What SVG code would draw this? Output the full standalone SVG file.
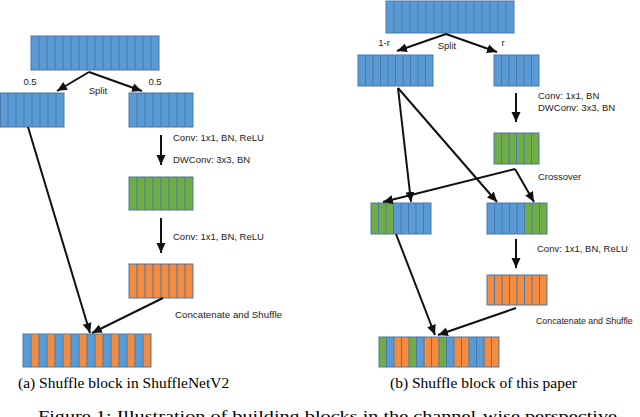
<svg xmlns="http://www.w3.org/2000/svg" width="640" height="417" viewBox="0 0 640 417">
<style>
.b{fill:#5B9BD5}
.g{fill:#70AD47}
.o{fill:#F58B3E}
.frame{fill:none;stroke:#4A78A8;stroke-width:1}
.div{fill:none;stroke:#4A78A8;stroke-width:1}
.lbl{font-family:"Liberation Sans","DejaVu Sans",sans-serif;font-size:9.5px;fill:#222}
.cap{font-family:"Liberation Serif","Times New Roman",serif;font-size:15.5px;fill:#000}
.arr{fill:none;stroke:#111;stroke-width:2;marker-end:url(#ah)}
</style>
<defs>
<marker id="ah" markerUnits="userSpaceOnUse" markerWidth="12" markerHeight="12" viewBox="0 0 12 12" refX="10" refY="6" orient="auto">
<path d="M0,1.5 L10,6 L0,10.5 Z" fill="#111"/>
</marker>
</defs>
<rect width="640" height="417" fill="#fff"/>

<!-- LEFT (a) -->
<g id="a-input">
<rect class="b" x="31" y="36" width="128" height="34"/>
<path class="div" d="M39,36v34M47,36v34M55,36v34M63,36v34M71,36v34M79,36v34M87,36v34M95,36v34M103,36v34M111,36v34M119,36v34M127,36v34M135,36v34M143,36v34M151,36v34"/>
<rect class="frame" x="31" y="36" width="128" height="34"/>
</g>
<g id="a-left">
<rect class="b" x="0.5" y="93" width="63.5" height="34"/>
<path class="div" d="M8,93v34M16,93v34M24,93v34M32,93v34M40,93v34M48,93v34M56,93v34"/>
<rect class="frame" x="0.5" y="93" width="63.5" height="34"/>
</g>
<g id="a-right">
<rect class="b" x="129" y="93" width="64" height="34"/>
<path class="div" d="M137,93v34M145,93v34M153,93v34M161,93v34M169,93v34M177,93v34M185,93v34"/>
<rect class="frame" x="129" y="93" width="64" height="34"/>
</g>
<g id="a-green">
<rect class="g" x="129" y="177" width="64" height="33"/>
<path class="div" d="M137,177v33M145,177v33M153,177v33M161,177v33M169,177v33M177,177v33M185,177v33"/>
<rect class="frame" x="129" y="177" width="64" height="33"/>
</g>
<g id="a-orange">
<rect class="o" x="129" y="264" width="64" height="34"/>
<path class="div" d="M137,264v34M145,264v34M153,264v34M161,264v34M169,264v34M177,264v34M185,264v34"/>
<rect class="frame" x="129" y="264" width="64" height="34"/>
</g>
<g id="a-output">
<rect class="b" x="23" y="334" width="128" height="33"/>
<rect class="o" x="31" y="334" width="8" height="33"/>
<rect class="o" x="47" y="334" width="8" height="33"/>
<rect class="o" x="63" y="334" width="8" height="33"/>
<rect class="o" x="79" y="334" width="8" height="33"/>
<rect class="o" x="95" y="334" width="8" height="33"/>
<rect class="o" x="111" y="334" width="8" height="33"/>
<rect class="o" x="127" y="334" width="8" height="33"/>
<rect class="o" x="143" y="334" width="8" height="33"/>
<path class="div" d="M31,334v33M39,334v33M47,334v33M55,334v33M63,334v33M71,334v33M79,334v33M87,334v33M95,334v33M103,334v33M111,334v33M119,334v33M127,334v33M135,334v33M143,334v33"/>
<rect class="frame" x="23" y="334" width="128" height="33"/>
</g>

<!-- RIGHT (b) -->
<g id="b-input">
<rect class="b" x="386" y="1" width="128" height="32"/>
<path class="div" d="M394,1v32M402,1v32M410,1v32M418,1v32M426,1v32M434,1v32M442,1v32M450,1v32M458,1v32M466,1v32M474,1v32M482,1v32M490,1v32M498,1v32M506,1v32"/>
<rect class="frame" x="386" y="1" width="128" height="32"/>
</g>
<g id="b-left">
<rect class="b" x="358" y="55" width="75" height="31"/>
<path class="div" d="M365.5,55v31M373,55v31M380.5,55v31M388,55v31M395.5,55v31M403,55v31M410.5,55v31M418,55v31M425.5,55v31"/>
<rect class="frame" x="358" y="55" width="75" height="31"/>
</g>
<g id="b-right">
<rect class="b" x="494" y="55" width="45" height="31"/>
<path class="div" d="M501.5,55v31M509,55v31M516.5,55v31M524,55v31M531.5,55v31"/>
<rect class="frame" x="494" y="55" width="45" height="31"/>
</g>
<g id="b-green">
<rect class="g" x="494" y="133" width="45" height="31"/>
<path class="div" d="M501.5,133v31M509,133v31M516.5,133v31M524,133v31M531.5,133v31"/>
<rect class="frame" x="494" y="133" width="45" height="31"/>
</g>
<g id="b-mix-left">
<rect class="g" x="371" y="203" width="22.5" height="31"/>
<rect class="b" x="393.5" y="203" width="37.5" height="31"/>
<path class="div" d="M378.5,203v31M386,203v31M393.5,203v31M401,203v31M408.5,203v31M416,203v31M423.5,203v31"/>
<rect class="frame" x="371" y="203" width="60" height="31"/>
</g>
<g id="b-mix-right">
<rect class="b" x="487" y="203" width="37.5" height="31"/>
<rect class="g" x="524.5" y="203" width="22.5" height="31"/>
<path class="div" d="M494.5,203v31M502,203v31M509.5,203v31M517,203v31M524.5,203v31M532,203v31M539.5,203v31"/>
<rect class="frame" x="487" y="203" width="60" height="31"/>
</g>
<g id="b-orange">
<rect class="o" x="487" y="275" width="60" height="30"/>
<path class="div" d="M494.5,275v30M502,275v30M509.5,275v30M517,275v30M524.5,275v30M532,275v30M539.5,275v30"/>
<rect class="frame" x="487" y="275" width="60" height="30"/>
</g>
<g id="b-output">
<rect class="o" x="379" y="337" width="120" height="30"/>
<rect class="g" x="379" y="337" width="7.5" height="30"/>
<rect class="b" x="386.5" y="337" width="7.5" height="30"/>
<rect class="g" x="409" y="337" width="7.5" height="30"/>
<rect class="b" x="416.5" y="337" width="7.5" height="30"/>
<rect class="g" x="439" y="337" width="7.5" height="30"/>
<rect class="b" x="446.5" y="337" width="7.5" height="30"/>
<rect class="b" x="469" y="337" width="15" height="30"/>
<path class="div" d="M386.5,337v30M394,337v30M401.5,337v30M409,337v30M416.5,337v30M424,337v30M431.5,337v30M439,337v30M446.5,337v30M454,337v30M461.5,337v30M469,337v30M476.5,337v30M484,337v30M491.5,337v30"/>
<rect class="frame" x="379" y="337" width="120" height="30"/>
</g>

<g id="connectors">
<path class="arr" d="M89,72 L57,91"/>
<path class="arr" d="M89,72 L142,91"/>
<path class="arr" d="M161,135 L161,165"/>
<path class="arr" d="M161,218 L161,253"/>
<path class="arr" d="M28,127 L90,333"/>
<path class="arr" d="M163,298 L92,333"/>
<path class="arr" d="M446,34 L397,51"/>
<path class="arr" d="M446,34 L497,52"/>
<path class="arr" d="M516,93 L516,122"/>
<path class="arr" d="M398,88 L411,202"/>
<path class="arr" d="M398,88 L497,202"/>
<path class="arr" d="M515,169 L383,202"/>
<path class="arr" d="M515,169 L534,202"/>
<path class="arr" d="M516,239 L516,268"/>
<path class="arr" d="M396,234 L435,335"/>
<path class="arr" d="M516,308 L438,335"/>
</g>

<g id="labels">
<text class="lbl" x="30" y="85" text-anchor="middle">0.5</text>
<text class="lbl" x="155" y="85" text-anchor="middle">0.5</text>
<text class="lbl" x="98" y="94" text-anchor="middle">Split</text>
<text class="lbl" x="173" y="141">Conv: 1x1, BN, ReLU</text>
<text class="lbl" x="173" y="163">DWConv: 3x3, BN</text>
<text class="lbl" x="173" y="240">Conv: 1x1, BN, ReLU</text>
<text class="lbl" x="175" y="318" textLength="107" lengthAdjust="spacingAndGlyphs">Concatenate and Shuffle</text>
<text class="lbl" x="384" y="46" text-anchor="middle">1-r</text>
<text class="lbl" x="447" y="49" text-anchor="middle">Split</text>
<text class="lbl" x="503" y="46" text-anchor="middle">r</text>
<text class="lbl" x="538" y="99">Conv: 1x1, BN</text>
<text class="lbl" x="538" y="111">DWConv: 3x3, BN</text>
<text class="lbl" x="538" y="180">Crossover</text>
<text class="lbl" x="537" y="252">Conv: 1x1, BN, ReLU</text>
<text class="lbl" x="536" y="324" style="font-size:8.8px">Concatenate and Shuffle</text>
<text class="cap" x="18" y="388">(a) Shuffle block in ShuffleNetV2</text>
<text class="cap" x="390" y="388">(b) Shuffle block of this paper</text>
<text class="cap" x="38" y="421" textLength="579" lengthAdjust="spacingAndGlyphs">Figure 1: Illustration of building blocks in the channel-wise perspective</text>
</g>
</svg>
